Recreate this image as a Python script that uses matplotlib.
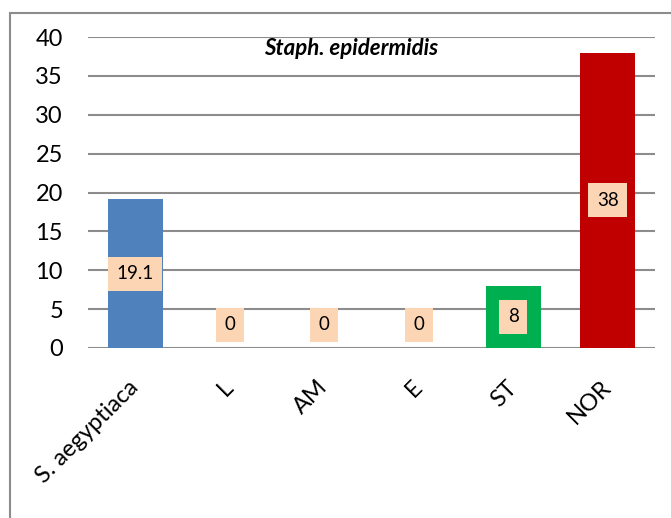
import matplotlib
matplotlib.use("Agg")
import matplotlib.pyplot as plt
from matplotlib.patches import Rectangle

categories = ["S. aegyptiaca", "L", "AM", "E", "ST", "NOR"]
values = [19.1, 0, 0, 0, 8, 38]
labels = ["19.1", "0", "0", "0", "8", "38"]
colors = ["#4F81BD", "#4F81BD", "#4F81BD", "#4F81BD", "#00B050", "#C00000"]
yticks = [0, 5, 10, 15, 20, 25, 30, 35, 40]
title = "Staph. epidermidis"

plt.rcParams['font.family'] = ['Lato', 'DejaVu Sans']

fig = plt.figure(figsize=(6.71, 5.18), dpi=100)
W, H = 671, 518
ax = fig.add_axes([88 / W, 1 - 348 / H, (655 - 88) / W, (348 - 37) / H])

x = list(range(len(categories)))
ax.bar(x, values, width=0.58, color=colors, zorder=3)
ax.set_xlim(-0.5, len(categories) - 0.5)
ax.set_ylim(0, 40)
ax.set_yticks(yticks)
ax.set_yticklabels([str(t) for t in yticks], fontsize=17)
ax.yaxis.grid(True, color="#8c8c8c", linewidth=1.5, zorder=0)
ax.tick_params(axis='y', length=0, pad=18)
ax.tick_params(axis='x', length=0, pad=26)
ax.set_xticks(x)
ax.set_xticklabels(categories, rotation=45, ha='right', va='center',
                   rotation_mode='anchor', fontsize=17)
for s in ax.spines.values():
    s.set_visible(False)

for xi, v, lab in zip(x, values, labels):
    yv = max(v / 2, 3.0)
    ax.text(xi, yv, lab, ha='center', va='center', fontsize=13.5, zorder=5,
            bbox=dict(boxstyle='square,pad=0.45', facecolor='#FCD5B5', edgecolor='none'))

ax.text(0.464, 0.963, title, transform=ax.transAxes, ha='center', va='center',
        fontsize=16, fontweight='bold', fontstyle='italic')

fig.patches.append(Rectangle((10 / W, -0.1), 1.2, 1 - 13 / H + 0.1, transform=fig.transFigure,
                             fill=False, edgecolor='#8c8c8c', linewidth=1.5))

fig.savefig("out.png", dpi=100)
